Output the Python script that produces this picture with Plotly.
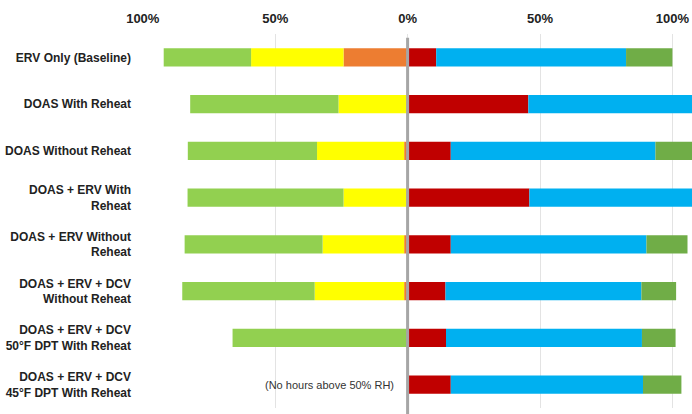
import plotly.graph_objects as go

categories = [
    "ERV Only (Baseline)",
    "DOAS With Reheat",
    "DOAS Without Reheat",
    "DOAS + ERV With<br>Reheat",
    "DOAS + ERV Without<br>Reheat",
    "DOAS + ERV + DCV<br>Without Reheat",
    "DOAS + ERV + DCV<br>50°F DPT With Reheat",
    "DOAS + ERV + DCV<br>45°F DPT With Reheat",
]

# left side (plotted as negative), ordered from zero outward
left_orange = [24.2, 0.0, 1.3, 0.0, 1.3, 1.3, 0.0, 0.0]
left_yellow = [34.9, 26.1, 32.9, 24.2, 30.8, 33.8, 0.0, 0.0]
left_green = [33.0, 56.0, 48.8, 58.9, 52.1, 50.0, 66.1, 0.0]

# right side, ordered from zero outward
right_red = [10.8, 45.6, 16.3, 46.0, 16.3, 14.3, 14.5, 16.3]
right_blue = [71.7, 62.0, 77.3, 62.0, 73.9, 74.0, 74.0, 72.6]
right_green = [17.5, 0.0, 14.0, 0.0, 15.5, 13.1, 12.7, 14.5]

tick_vals = [-100, -50, 0, 50, 100]
tick_text = ["100%", "50%", "0%", "50%", "100%"]

note_text = "(No hours above 50% RH)"

fig = go.Figure()

def add(vals, color, sign):
    fig.add_trace(go.Bar(
        y=categories, x=[sign * v for v in vals], orientation="h",
        marker=dict(color=color, line=dict(width=0)),
        width=0.39, showlegend=False, hoverinfo="skip",
    ))

add(left_orange, "#ED7D31", -1)
add(left_yellow, "#FFFF00", -1)
add(left_green, "#92D050", -1)
add(right_red, "#C00000", 1)
add(right_blue, "#00B0F0", 1)
add(right_green, "#70AD47", 1)

fig.add_annotation(x=-29.4, y=categories[7], text=note_text, showarrow=False,
                   font=dict(family="Liberation Sans, Arial", size=11, color="#333333"))

fig.add_shape(type="line", xref="x", yref="paper", x0=0, x1=0, y0=-0.03, y1=0.99,
              line=dict(color="#A6A6A6", width=3), layer="above")

fig.update_layout(
    width=692, height=414,
    margin=dict(l=142, r=0, t=34, b=6),
    barmode="relative",
    plot_bgcolor="white", paper_bgcolor="white",
    font=dict(family="Liberation Sans, Arial", color="#222222"),
    xaxis=dict(
        range=[-100.3, 107.4], side="top",
        tickvals=tick_vals, ticktext=tick_text,
        tickfont=dict(size=13, color="#222222", family="Liberation Sans, Arial", weight="bold"),
        showgrid=True, gridcolor="#E3E3E3", gridwidth=1,
        zeroline=False, showline=False, ticks="", ticklabelstandoff=7,
        fixedrange=True, automargin=False,
    ),
    yaxis=dict(
        autorange="reversed",
        tickfont=dict(size=12, color="#222222", family="Liberation Sans, Arial", weight="bold"),
        showgrid=False, zeroline=False, showline=False, ticks="",
        ticklabelstandoff=10, automargin=False,
    ),
)

fig.write_html("out.html", config={"displayModeBar": False},
               post_script="document.body.style.margin='0';document.body.style.overflow='hidden';")
